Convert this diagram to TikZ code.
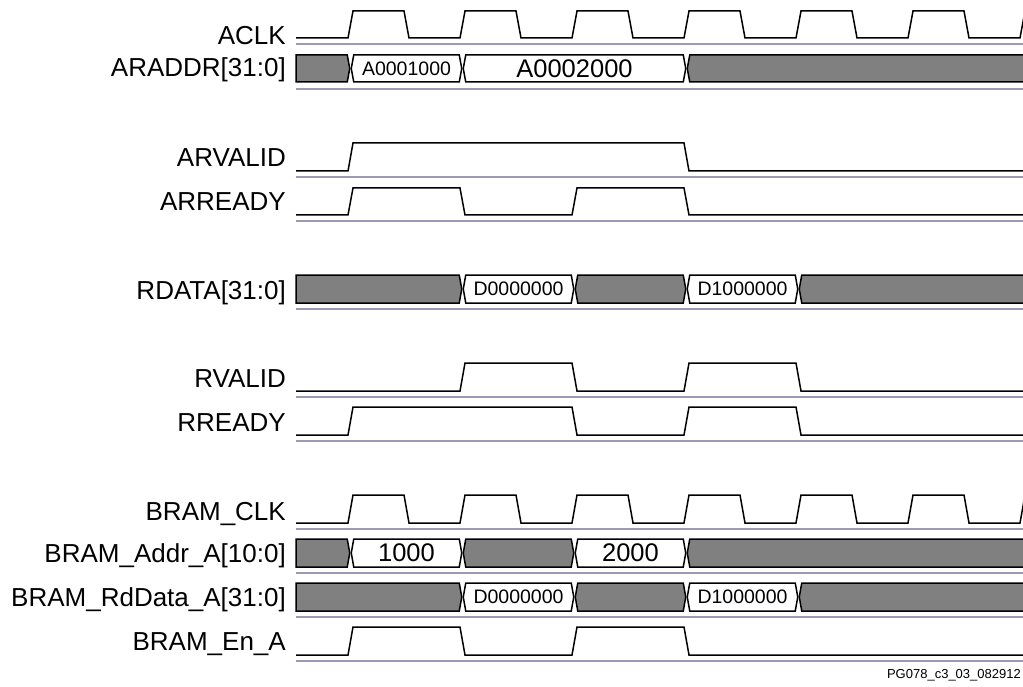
\documentclass[tikz,border=0pt]{standalone}
\usepackage{fontspec}
\setmainfont{Liberation Sans}
\definecolor{sepcol}{RGB}{155,155,185}
\tikzset{
  sig/.style={line width=1.5pt, line join=miter},
  bus/.style={line width=1.5pt, draw=black},
  sepline/.style={line width=2pt, draw=sepcol},
  lbl/.style={anchor=base east, inner sep=0pt, font=\fontsize{26}{30}\selectfont},
  smalltxt/.style={inner sep=0pt, font=\fontsize{19.5}{23}\selectfont},
  bigtxt/.style={inner sep=0pt, font=\fontsize{25.5}{30}\selectfont},
}
% bus segment: x0, x1, top, bottom, fill
\newcommand\bseg[5]{%
  \pgfmathsetmacro\ym{(#3+#4)/2}%
  \filldraw[bus,fill=#5] (#1+0.75,\ym) -- (#1+3.25,#3) -- (#2-3.25,#3) -- (#2-0.75,\ym) -- (#2-3.25,#4) -- (#1+3.25,#4) -- cycle;}
\newcommand\bsegL[4]{%
  \pgfmathsetmacro\ym{(#2+#3)/2}%
  \filldraw[bus,fill=#4] (296,#2) -- (#1-3.25,#2) -- (#1-0.75,\ym) -- (#1-3.25,#3) -- (296,#3) -- cycle;}
\newcommand\bsegR[4]{%
  \pgfmathsetmacro\ym{(#2+#3)/2}%
  \filldraw[bus,fill=#4] (1030,#2) -- (#1+3.25,#2) -- (#1+0.75,\ym) -- (#1+3.25,#3) -- (1030,#3) -- cycle;}
\newcommand\clk[2]{% low, high
  \draw[sig] (296,#1) \foreach \k in {0,...,5} { -- ({348+112*\k},#1) -- ({353+112*\k},#2) -- ({404+112*\k},#2) -- ({409+112*\k},#1) } -- (1020,#1) -- (1025,#2);}
\begin{document}
\begin{tikzpicture}[x=1pt,y=-1pt]
\useasboundingbox (0,0) rectangle (1023,687);
\fill[white] (0,0) rectangle (1023,687);
\begin{scope}
\clip (0,0) rectangle (1023,687);
% separators
\foreach \s in {44,89,177,221,309,397,441,529,573,617,661}
  \draw[sepline] (296,\s) -- (1023,\s);
% ACLK
\clk{38}{11}
% ARADDR
\bsegL{350.5}{55}{82}{gray}
\bseg{350.5}{462.5}{55}{82}{white}
\bseg{462.5}{686.5}{55}{82}{white}
\bsegR{686.5}{55}{82}{gray}
% ARVALID
\draw[sig] (296,171) -- (348,171) -- (353,143) -- (684,143) -- (689,171) -- (1023,171);
% ARREADY
\draw[sig] (296,215) -- (348,215) -- (353,188) -- (460,188) -- (465,215) -- (572,215) -- (577,188) -- (684,188) -- (689,215) -- (1023,215);
% RDATA
\bsegL{462.5}{275}{303}{gray}
\bseg{462.5}{574.5}{275}{303}{white}
\bseg{574.5}{686.5}{275}{303}{gray}
\bseg{686.5}{798.5}{275}{303}{white}
\bsegR{798.5}{275}{303}{gray}
% RVALID
\draw[sig] (296,391) -- (460,391) -- (465,363) -- (572,363) -- (577,391) -- (684,391) -- (689,363) -- (796,363) -- (801,391) -- (1023,391);
% RREADY
\draw[sig] (296,435) -- (348,435) -- (353,407) -- (572,407) -- (577,435) -- (684,435) -- (689,407) -- (796,407) -- (801,435) -- (1023,435);
% BRAM_CLK
\clk{523}{495}
% BRAM_Addr_A
\bsegL{350.5}{539}{567}{gray}
\bseg{350.5}{462.5}{539}{567}{white}
\bseg{462.5}{574.5}{539}{567}{gray}
\bseg{574.5}{686.5}{539}{567}{white}
\bsegR{686.5}{539}{567}{gray}
% BRAM_RdData_A
\bsegL{462.5}{583}{611}{gray}
\bseg{462.5}{574.5}{583}{611}{white}
\bseg{574.5}{686.5}{583}{611}{gray}
\bseg{686.5}{798.5}{583}{611}{white}
\bsegR{798.5}{583}{611}{gray}
% BRAM_En_A
\draw[sig] (296,655) -- (348,655) -- (353,627) -- (460,627) -- (465,655) -- (572,655) -- (577,627) -- (684,627) -- (689,655) -- (1023,655);
\end{scope}
% bus texts
\node[smalltxt] (t-a1) at (406.5,68.5) {A0001000};
\node[bigtxt] (t-a2) at (574.5,68.5) {A0002000};
\node[smalltxt] (t-d0) at (518.5,289) {D0000000};
\node[smalltxt] (t-d1) at (742.5,289) {D1000000};
\node[bigtxt] (t-b1) at (406.5,553) {1000};
\node[bigtxt] (t-b2) at (630.5,553) {2000};
\node[smalltxt] (t-e0) at (518.5,597) {D0000000};
\node[smalltxt] (t-e1) at (742.5,597) {D1000000};
% labels
\node[lbl] (l-aclk) at (286,45) {ACLK};
\node[lbl] (l-araddr) at (286,77) {ARADDR[31:0]};
\node[lbl] (l-arvalid) at (286,167) {ARVALID};
\node[lbl] (l-arready) at (286,211) {ARREADY};
\node[lbl] (l-rdata) at (286,299) {RDATA[31:0]};
\node[lbl] (l-rvalid) at (286,387) {RVALID};
\node[lbl] (l-rready) at (286,431) {RREADY};
\node[lbl] (l-bclk) at (286,520) {BRAM\_CLK};
\node[lbl] (l-baddr) at (286,562) {BRAM\_Addr\_A[10:0]};
\node[lbl] (l-brd) at (286,606) {BRAM\_RdData\_A[31:0]};
\node[lbl] (l-ben) at (286,650) {BRAM\_En\_A};
\node[anchor=base east, inner sep=0pt, font=\fontsize{13}{15}\selectfont] (fig-id) at (1021,678) {PG078\_c3\_03\_082912};
\end{tikzpicture}
\end{document}
